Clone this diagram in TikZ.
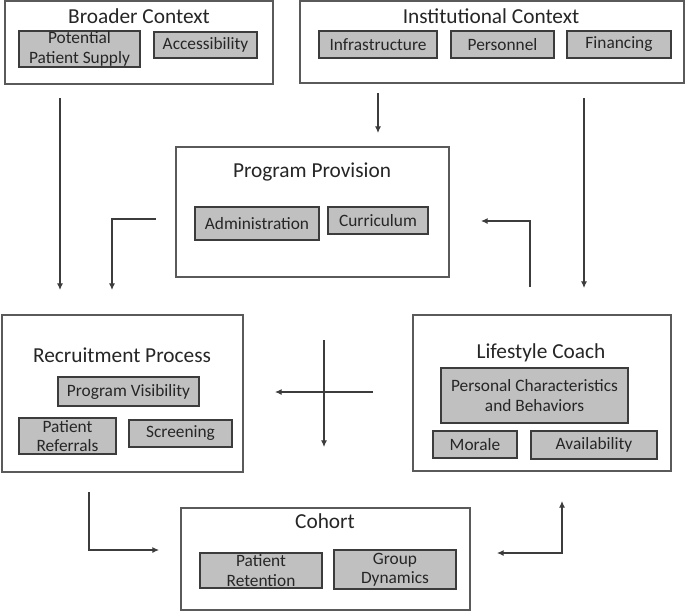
\documentclass[tikz,border=0pt]{standalone}
\usepackage{fontspec}
\setmainfont{Carlito}
\usetikzlibrary{arrows.meta,fit}
\definecolor{outline}{HTML}{5A5A5A}
\definecolor{inline}{HTML}{3C3C3C}
\definecolor{infill}{HTML}{C0C0C0}
\definecolor{txt}{HTML}{262626}
\newcommand\ibox[6]{\node[inbox, minimum width={(#4-#2)*0.75pt}, minimum height={(#5-#3)*0.75pt}] (#1) at ({(#2+#4)/2},{(#3+#5)/2}) {#6};}
\begin{document}
\begin{tikzpicture}[x=0.75pt,y=-0.75pt,
 outer/.style={draw=outline, line width=1.1pt, fill=white, inner sep=0pt},
 inbox/.style={draw=inline, line width=1pt, fill=infill, inner sep=0pt, align=center, font=\fontsize{13}{14.5}\selectfont, text=txt},
 ttl/.style={font=\fontsize{16}{19}\selectfont, text=txt, inner sep=0pt},
 tip/.tip={Latex[length=5pt,width=4.5pt]},
 arr/.style={draw=inline, line width=0.8pt, -tip},
 darr/.style={draw=inline, line width=0.8pt, tip-tip}]
\useasboundingbox (0,0) rectangle (685,615);
% outer boxes
\node[outer, fit={(5,1)(273,84)}] (bc) {};
\node[outer, fit={(300,1)(684,83)}] (ic) {};
\node[outer, fit={(176,147)(449,277)}] (pp) {};
\node[outer, fit={(2,315)(243,472)}] (rp) {};
\node[outer, fit={(413,315)(671,471)}] (lc) {};
\node[outer, fit={(181,508)(470,610)}] (co) {};
% titles
\node[ttl] (bct) at (139,16) {Broader Context};
\node[ttl] (ict) at (491,16) {Institutional Context};
\node[ttl] (ppt) at (312,172) {Program Provision};
\node[ttl] (rpt) at (122,355) {Recruitment Process};
\node[ttl] (lct) at (541,353) {Lifestyle Coach};
\node[ttl] (cot) at (325,521) {Cohort};
% inner boxes
\ibox{pps}{19}{31}{140}{67}{Potential\\Patient Supply}
\ibox{acc}{154}{32}{257}{58}{Accessibility}
\ibox{inf}{319}{31}{437}{58}{Infrastructure}
\ibox{per}{451}{31}{554}{58}{Personnel}
\ibox{fin}{567}{31}{671}{58}{Financing}
\ibox{adm}{195}{207}{319}{240}{Administration}
\ibox{cur}{328}{207}{428}{234}{Curriculum}
\ibox{pv}{58}{377}{199}{406}{Program Visibility}
\ibox{pr}{19}{418}{116}{454}{Patient\\Referrals}
\ibox{scr}{129}{420}{232}{447}{Screening}
\ibox{pcb}{441}{368}{628}{423}{Personal Characteristics\\and Behaviors}
\ibox{mor}{433}{431}{517}{458}{Morale}
\ibox{ava}{531}{431}{657}{459}{Availability}
\ibox{ret}{200}{553}{322}{588}{Patient\\Retention}
\ibox{gd}{334}{550}{456}{589}{Group\\Dynamics}
% connector end points
\coordinate (a1s) at (60,98);   \coordinate (a1e) at (60,290);
\coordinate (a2s) at (378,93);  \coordinate (a2e) at (378,133);
\coordinate (a3s) at (584,98);  \coordinate (a3e) at (584,288);
\coordinate (a4s) at (156,219); \coordinate (a4e) at (112,290);
\coordinate (a5s) at (530,287); \coordinate (a5e) at (481,221);
\coordinate (a6s) at (324,340); \coordinate (a6e) at (324,447);
\coordinate (a7s) at (373,392); \coordinate (a7e) at (275,392);
\coordinate (a8s) at (89,492);  \coordinate (a8e) at (159,550);
\coordinate (a9s) at (497,553); \coordinate (a9e) at (562,501);
% connectors
\draw[arr] (a1s) -- (a1e);
\draw[arr] (a2s) -- (a2e);
\draw[arr] (a3s) -- (a3e);
\draw[arr] (a4s) -| (a4e);
\draw[arr] (a5s) |- (a5e);
\draw[arr] (a6s) -- (a6e);
\draw[arr] (a7s) -- (a7e);
\draw[arr] (a8s) |- (a8e);
\draw[darr] (a9s) -| (a9e);
\end{tikzpicture}
\end{document}
